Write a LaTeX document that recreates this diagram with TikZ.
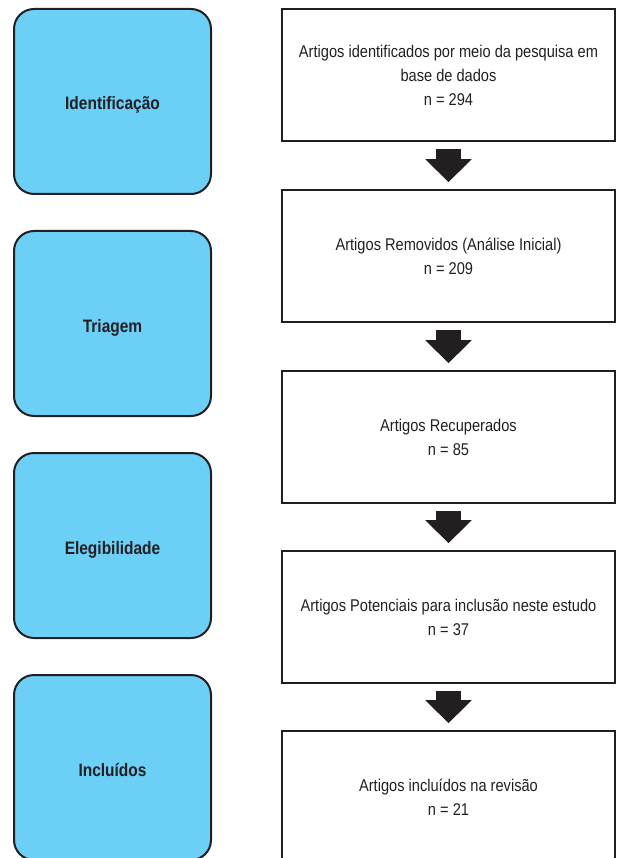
\documentclass[tikz,border=0pt]{standalone}
\usepackage{fontspec}
\setmainfont{Liberation Sans}[FakeStretch=0.86]
\usetikzlibrary{arrows.meta}
\definecolor{phaseblue}{RGB}{107,207,246}
\definecolor{inkblack}{RGB}{35,31,32}

\begin{document}
\begin{tikzpicture}[
    x = 1pt, y = -1pt,
      phase/.style={draw=inkblack, fill=phaseblue, rectangle, rounded corners=20pt, line width=2pt, minimum width=197pt, minimum height=185pt, text height=17pt, text depth=0pt, font=\fontsize{18}{22}\selectfont\bfseries, text=inkblack},
      stage/.style={draw=inkblack, fill=white, rectangle, line width=1.6pt, minimum width=333pt, minimum height=132pt, align=center, font=\fontsize{17}{24}\selectfont, text=inkblack},
      flow/.style={-{Triangle[width=45pt, length=23pt]}, line width=25pt, color=inkblack, shorten <=7pt, shorten >=7pt}
  ]
      \useasboundingbox (0, 0) rectangle (616, 858);
      \clip (0, 0) rectangle (616, 858);

      % Phases
      \node (identificacao) at (112.5, 101.5) [phase] {Identificação};
      \node (triagem) at (112.5, 323.5) [phase] {Triagem};
      \node (elegibilidade) at (112.5, 545.5) [phase] {Elegibilidade};
      \node (incluidos) at (112.5, 767.5) [phase] {Incluídos};

      % Identified
      \node (identificados) at (448.5, 75) [stage] {Artigos identificados por meio da pesquisa em\\base de dados\\n = 294};

      % Removed
      \node (removidos) at (448.5, 256) [stage] {Artigos Removidos (Análise Inicial)\\n = 209};

      % Recovered
      \node (recuperados) at (448.5, 437) [stage] {Artigos Recuperados\\n = 85};

      % Potential
      \node (potenciais) at (448.5, 617) [stage] {Artigos Potenciais para inclusão neste estudo\\n = 37};

      % Included
      \node (revisao) at (448.5, 797) [stage] {Artigos incluídos na revisão\\n = 21};

      % Arrows
      \draw[flow] (identificados) -- (removidos);
      \draw[flow] (removidos) -- (recuperados);
      \draw[flow] (recuperados) -- (potenciais);
      \draw[flow] (potenciais) -- (revisao);
  \end{tikzpicture}
\end{document}
